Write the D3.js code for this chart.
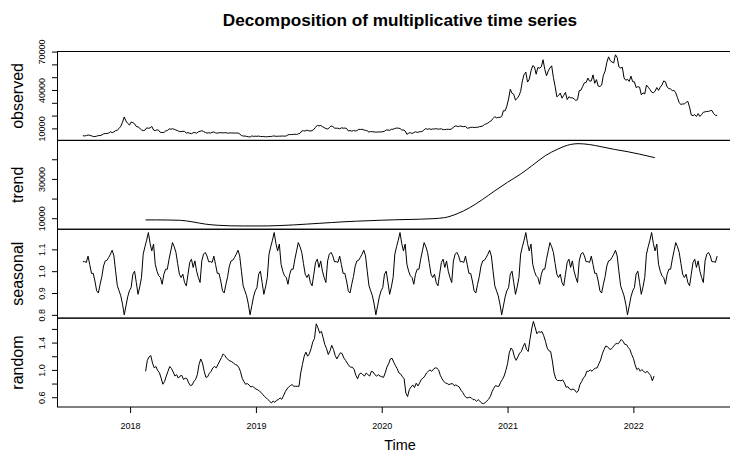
<!DOCTYPE html>
<html>
<head>
<meta charset="utf-8">
<title>Decomposition of multiplicative time series</title>
<script src="https://d3js.org/d3.v7.min.js"></script>
<style>
  body { margin: 0; background: #fff; }
  svg { display: block; font-family: "Liberation Sans", Arial, sans-serif; }
  .series { fill: none; stroke: #000; stroke-width: 1; stroke-linejoin: round; }
  .frame { fill: none; stroke: #000; stroke-width: 1; }
  .tick line { stroke: #000; }
  .tick text { font-size: 9px; fill: #000; font-family: "Liberation Sans", Arial, sans-serif; }
  .panel-name { font-size: 16px; }
  .title { font-size: 17.2px; font-weight: bold; }
  .xlab { font-size: 14.5px; }
</style>
</head>
<body>
<svg width="730" height="452"></svg>
<script>
const startYear = 2017 + 228 / 365;
const stepDays = 5;

const observed = [
  4285,4100,4350,4830,4600,4150,3700,3620,3900,4380,4370,4800,5700,6000,5890,6450,7400,6620,7250,8200,8700,9900,11700,14800,18900,15800,13900,12600,
  15000,14500,13600,11500,11200,10100,8900,8200,8600,10400,10100,10300,
  11500,8700,8200,8900,8450,6850,6800,6750,8000,8250,9650,9350,
  9700,9300,8700,8250,7500,7500,7700,7620,6300,6750,6150,5900,
  6600,6750,6250,7350,7700,8200,7550,6900,6300,6580,6370,6900,
  7200,6450,6300,6500,6750,6450,6580,6600,6250,6480,6420,6400,
  6300,6400,6400,5600,4450,4000,4000,3750,3500,3200,4100,3750,3900,
  3800,4000,3650,3650,3580,3450,3420,3650,3600,3900,4100,3800,
  3850,3900,3950,4050,3900,4100,4950,5200,5150,5300,5450,5250,
  5800,6150,7950,8200,7950,8650,8100,7950,8250,9100,10850,12400,
  11950,12300,11350,10650,9850,9550,10500,11950,11400,10250,10100,10150,
  9600,10450,10150,10250,9950,8050,8300,7850,8300,8000,8200,9250,
  9150,9300,8800,8450,8100,7050,7550,7400,7200,7100,7150,7200,7250,
  7350,7800,8800,8700,8450,9300,9300,9900,10250,10150,9950,8700,
  8750,7950,5350,6200,6750,5900,6750,7300,6850,7250,7480,7750,
  8900,9800,9300,9700,9180,9580,9500,9750,9450,9450,9700,9000,
  9100,9250,9300,9150,9550,11000,11800,11750,11400,11900,11550,11350,11650,
  10100,10350,10780,10900,10700,10780,10800,11300,11500,11900,13050,13550,
  14150,15300,16000,17800,19150,18200,18650,18550,19250,23850,23700,27350,
  33000,40600,37400,36600,32100,33400,35500,38900,47100,52100,54000,46200,
  48400,54900,59000,58100,52300,57600,57100,58100,63600,56200,51100,54900,
  57200,58900,49700,42900,34700,35700,37600,33600,35800,38100,32500,34700,
  33900,33900,33100,31800,32500,39500,39900,42800,45600,45900,49300,46900,47100,
  51800,45200,48100,43000,42700,43800,51500,54700,61500,65900,62900,61900,
  61100,67500,65400,58100,57100,57800,49400,47600,48400,46700,50800,46500,
  46400,41900,42600,42200,36300,37700,36900,43800,42200,40500,38300,37700,
  39100,41900,39700,42200,43900,47100,46400,42300,41100,40800,39500,39700,
  37700,34000,30000,28700,29100,29000,30400,31100,26600,20400,20000,20700,
  19300,21600,19300,20800,22600,22900,23300,23200,23900,23900,21500,20200,20050
];

// centred moving average, read at these times
const trendYears = [
  2018.123,2018.2,2018.3,2018.4,2018.5,2018.6,2018.7,2018.8,2018.9,2019.0,
  2019.1,2019.2,2019.3,2019.4,2019.5,2019.6,2019.7,2019.8,2019.9,2020.0,
  2020.1,2020.2,2020.3,2020.4,2020.5,2020.6,2020.7,2020.8,2020.9,2021.0,
  2021.1,2021.2,2021.3,2021.4,2021.5,2021.56,2021.65,2021.75,2021.85,2021.95,
  2022.05,2022.17
];
const trendValues = [
  9150,9150,9100,8950,8100,7000,6400,6150,6070,6070,
  6100,6300,6600,7000,7400,7800,8200,8500,8750,9000,
  9200,9350,9500,9750,10300,12300,15400,19500,24000,28300,
  32300,37000,41800,45200,47500,47930,47500,46300,45000,43900,
  42600,40800
];

// one year of the seasonal figure (73 steps of 5 days), repeated each year
const seasonalFigure = [
  1.043,1.044,1.04,1.069,1.03,0.99,0.99,0.955,0.91,0.90,
  0.94,0.975,1.024,1.047,1.05,1.063,1.078,1.096,1.07,1.0,
  0.933,0.91,0.887,0.849,0.80,0.841,0.882,0.91,0.925,0.986,
  1.0,0.948,0.894,0.928,0.971,1.078,1.112,1.142,1.177,1.127,
  1.093,1.124,1.032,1.0,0.979,0.971,0.94,0.986,1.009,1.009,
  1.055,1.093,1.131,1.112,1.086,1.035,0.986,0.971,0.986,0.948,
  0.933,0.986,1.04,1.055,1.017,1.047,1.0,0.971,0.948,1.047,
  1.078,1.086,1.07
];

// remainder, starts half a year after the series
const randomStart = startYear + 182 / 365;
const random = [
  0.98,1.14,1.19,1.21,1.10,1.03,1.05,0.99,0.96,0.88,
  0.79,0.83,0.91,0.98,1.05,1.02,0.97,0.91,0.93,0.88,
  0.91,0.92,0.86,0.88,0.87,0.81,0.77,0.78,0.83,0.86,
  0.93,1.08,1.16,1.10,0.98,0.89,0.90,0.95,0.98,1.03,
  1.05,1.03,1.08,1.13,1.18,1.235,1.21,1.17,1.15,1.13,
  1.12,1.10,1.08,1.07,1.04,0.98,0.88,0.83,0.79,0.80,
  0.78,0.75,0.76,0.74,0.72,0.71,0.69,0.67,0.64,0.61,
  0.59,0.565,0.54,0.515,0.545,0.525,0.555,0.565,0.59,0.57,
  0.62,0.68,0.72,0.75,0.77,0.785,0.76,0.76,0.76,0.76,
  0.955,1.08,1.20,1.26,1.20,1.235,1.31,1.41,1.46,1.675,
  1.615,1.54,1.565,1.47,1.37,1.31,1.225,1.28,1.36,1.30,
  1.21,1.16,1.21,1.25,1.24,1.175,1.14,1.10,1.06,1.04,
  1.04,1.005,0.92,0.87,0.94,0.955,0.93,0.91,0.955,0.93,
  0.91,0.98,0.97,0.93,0.91,0.93,0.91,0.90,0.89,0.955,
  1.04,1.09,1.16,1.17,1.11,1.06,1.015,0.955,0.94,0.90,
  0.87,0.66,0.61,0.71,0.75,0.78,0.74,0.805,0.765,0.81,
  0.86,0.88,0.91,0.955,0.98,1.0,0.98,1.01,1.03,1.025,
  1.0,0.92,0.87,0.83,0.81,0.80,0.785,0.795,0.80,0.77,
  0.78,0.765,0.75,0.70,0.67,0.625,0.595,0.59,0.60,0.59,
  0.565,0.565,0.54,0.565,0.54,0.515,0.505,0.52,0.545,0.57,
  0.61,0.68,0.73,0.77,0.76,0.76,0.82,0.86,0.91,0.99,
  1.09,1.25,1.32,1.29,1.19,1.14,1.19,1.245,1.27,1.34,
  1.39,1.30,1.27,1.445,1.60,1.71,1.625,1.53,1.56,1.55,
  1.56,1.50,1.42,1.32,1.28,1.27,1.13,0.955,0.87,0.845,
  0.845,0.84,0.855,0.81,0.745,0.755,0.72,0.71,0.72,0.705,
  0.67,0.69,0.785,0.83,0.88,0.91,0.98,0.98,1.0,0.98,
  1.01,1.025,1.03,1.09,1.145,1.235,1.30,1.35,1.34,1.31,
  1.30,1.33,1.36,1.39,1.38,1.41,1.445,1.42,1.375,1.37,
  1.33,1.30,1.225,1.17,1.075,1.005,1.025,0.98,1.005,0.975,
  0.96,0.98,0.95,0.92,0.84,0.91
];

const years = [2018, 2019, 2020, 2021, 2022];

const svg = d3.select("svg");
const plotLeft = 57.5, plotRight = 742.5, plotTop = 51.5, plotBottom = 407;
const panelH = (plotBottom - plotTop) / 4;

const obsPts = observed.map((v, i) => [startYear + i * stepDays / 365, v]);
const trendPts = trendYears.map((t, i) => [t, trendValues[i]]);
const seasPts = observed.map((v, i) => [startYear + i * stepDays / 365, seasonalFigure[i % seasonalFigure.length]]);
const randPts = random.map((v, i) => [randomStart + i * stepDays / 365, v]);

// R style 4% extension of the data range
function padded(ext) {
  const d = (ext[1] - ext[0]) * 0.04;
  return [ext[0] - d, ext[1] + d];
}

const x = d3.scaleLinear()
  .domain(padded(d3.extent(obsPts, d => d[0])))
  .range([plotLeft, plotRight]);

const panels = [
  { name: "observed", pts: obsPts, fmt: d3.format("d") },
  { name: "trend", pts: trendPts, fmt: d3.format("d"), curve: d3.curveMonotoneX },
  { name: "seasonal", pts: seasPts, fmt: d3.format(".1f") },
  { name: "random", pts: randPts, fmt: d3.format(".1f") }
];

panels.forEach((p, k) => {
  const y0 = plotTop + k * panelH;
  const y = d3.scaleLinear()
    .domain(padded(d3.extent(p.pts, d => d[1])))
    .range([y0 + panelH, y0]);

  const g = svg.append("g");

  g.append("path")
    .datum(p.pts)
    .attr("class", "series")
    .attr("d", d3.line()
      .x(d => x(d[0]))
      .y(d => y(d[1]))
      .curve(p.curve || d3.curveLinear));

  g.append("rect")
    .attr("class", "frame")
    .attr("x", plotLeft).attr("y", y0)
    .attr("width", plotRight - plotLeft).attr("height", panelH);

  const ax = g.append("g")
    .attr("transform", `translate(${plotLeft},0)`)
    .call(d3.axisLeft(y).ticks(5).tickSize(5.5).tickSizeOuter(0).tickFormat(p.fmt));
  ax.attr("font-family", null).attr("font-size", null);
  ax.select(".domain").remove();
  ax.selectAll(".tick text")
    .attr("x", 0).attr("y", -12.5).attr("dy", null)
    .attr("text-anchor", "middle")
    .attr("transform", "rotate(-90)");

  // drop labels that would run into the previous one, as R does
  let lastTop = Infinity;
  ax.selectAll(".tick").nodes()
    .sort((a, b) => d3.select(a).datum() - d3.select(b).datum())
    .forEach(node => {
      const v = d3.select(node).datum();
      const t = d3.select(node).select("text");
      const half = t.node().getComputedTextLength() / 2;
      if (y(v) + half < lastTop - 4) lastTop = y(v) - half;
      else t.remove();
    });

  svg.append("text")
    .attr("class", "panel-name")
    .attr("text-anchor", "middle")
    .attr("transform", `translate(23,${y0 + panelH / 2}) rotate(-90)`)
    .text(p.name);
});

const xa = svg.append("g")
  .attr("transform", `translate(0,${plotBottom})`)
  .call(d3.axisBottom(x).tickValues(years).tickSize(6).tickSizeOuter(0).tickFormat(d3.format("d")));
xa.attr("font-family", null).attr("font-size", null);
xa.select(".domain").remove();
xa.selectAll(".tick text").attr("y", 22).attr("dy", null);

svg.append("text")
  .attr("class", "title")
  .attr("x", (plotLeft + plotRight) / 2).attr("y", 26)
  .attr("text-anchor", "middle")
  .text("Decomposition of multiplicative time series");

svg.append("text")
  .attr("class", "xlab")
  .attr("x", (plotLeft + plotRight) / 2).attr("y", 450)
  .attr("text-anchor", "middle")
  .text("Time");
</script>
</body>
</html>
